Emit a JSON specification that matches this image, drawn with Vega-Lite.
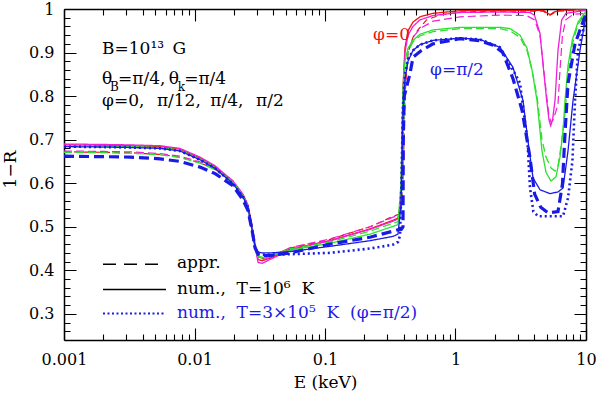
{
"$schema": "https://vega.github.io/schema/vega-lite/v6.json",
"width": 522, "height": 331,
"autosize": "none",
"padding": {"left": 64, "top": 9, "right": 14, "bottom": 53},
"background": "white",
"config": {"view": {"stroke": null},
 "axis": {"labelFont": "DejaVu Serif", "titleFont": "DejaVu Serif", "labelFontSize": 16, "titleFontSize": 17, "titleFontWeight": "normal", "labelColor": "black", "titleColor": "black", "domainColor": "black", "domainWidth": 1.5, "labelFlush": false, "labelOverlap": false}},
"datasets": {
"dummy": [{"E": 1, "v": 0.5}],
"curves": [
{"s":"a","E":0.001,"v":0.672},{"s":"a","E":0.002,"v":0.671},{"s":"a","E":0.0032,"v":0.670},{"s":"a","E":0.00545,"v":0.666},{"s":"a","E":0.00773,"v":0.660},{"s":"a","E":0.011,"v":0.647},{"s":"a","E":0.0144,"v":0.632},{"s":"a","E":0.0197,"v":0.604},{"s":"a","E":0.0235,"v":0.572},{"s":"a","E":0.0257,"v":0.547},{"s":"a","E":0.0276,"v":0.502},{"s":"a","E":0.0291,"v":0.457},{"s":"a","E":0.0307,"v":0.43},{"s":"a","E":0.033,"v":0.427},{"s":"a","E":0.038,"v":0.432},{"s":"a","E":0.054,"v":0.451},{"s":"a","E":0.109,"v":0.471},{"s":"a","E":0.221,"v":0.5},{"s":"a","E":0.333,"v":0.524},{"s":"a","E":0.3625,"v":0.528},
{"s":"a","E":0.3823,"v":0.535},{"s":"a","E":0.396,"v":0.6},{"s":"a","E":0.41,"v":0.8},{"s":"a","E":0.4325,"v":0.9},{"s":"a","E":0.4725,"v":0.935},{"s":"a","E":0.516,"v":0.952},{"s":"a","E":0.6,"v":0.975},{"s":"a","E":0.76,"v":0.986},{"s":"a","E":1.083,"v":0.993},{"s":"a","E":2.193,"v":0.995},{"s":"a","E":4.684,"v":0.995},{"s":"a","E":5.0,"v":0.99},{"s":"a","E":5.3,"v":0.986},{"s":"a","E":5.6,"v":0.99},{"s":"a","E":6.0,"v":0.995},{"s":"a","E":10,"v":0.998},
{"s":"b","E":0.001,"v":0.688},{"s":"b","E":0.002,"v":0.687},{"s":"b","E":0.0032,"v":0.686},{"s":"b","E":0.00545,"v":0.684},{"s":"b","E":0.00773,"v":0.678},{"s":"b","E":0.011,"v":0.658},{"s":"b","E":0.0144,"v":0.638},{"s":"b","E":0.0197,"v":0.603},{"s":"b","E":0.0235,"v":0.573},{"s":"b","E":0.0257,"v":0.548},{"s":"b","E":0.0276,"v":0.498},{"s":"b","E":0.0291,"v":0.453},{"s":"b","E":0.0307,"v":0.425},{"s":"b","E":0.033,"v":0.422},{"s":"b","E":0.038,"v":0.428},{"s":"b","E":0.054,"v":0.449},{"s":"b","E":0.109,"v":0.468},{"s":"b","E":0.221,"v":0.495},{"s":"b","E":0.333,"v":0.515},{"s":"b","E":0.3625,"v":0.52},
{"s":"b","E":0.3823,"v":0.56},{"s":"b","E":0.396,"v":0.82},{"s":"b","E":0.41,"v":0.91},{"s":"b","E":0.4325,"v":0.95},{"s":"b","E":0.4725,"v":0.97},{"s":"b","E":0.5346,"v":0.982},{"s":"b","E":0.6725,"v":0.99},{"s":"b","E":1.083,"v":0.996},{"s":"b","E":4.7,"v":0.997},{"s":"b","E":5.1,"v":0.99},{"s":"b","E":5.35,"v":0.987},{"s":"b","E":5.6,"v":0.992},{"s":"b","E":6.3,"v":0.997},{"s":"b","E":10,"v":0.999},
{"s":"c","E":0.001,"v":0.674},{"s":"c","E":0.002,"v":0.673},{"s":"c","E":0.0032,"v":0.672},{"s":"c","E":0.00545,"v":0.668},{"s":"c","E":0.00773,"v":0.662},{"s":"c","E":0.011,"v":0.649},{"s":"c","E":0.0144,"v":0.634},{"s":"c","E":0.0197,"v":0.606},{"s":"c","E":0.0235,"v":0.574},{"s":"c","E":0.0257,"v":0.549},{"s":"c","E":0.0276,"v":0.504},{"s":"c","E":0.0291,"v":0.459},{"s":"c","E":0.0307,"v":0.425},{"s":"c","E":0.033,"v":0.423},{"s":"c","E":0.038,"v":0.43},{"s":"c","E":0.054,"v":0.452},{"s":"c","E":0.109,"v":0.472},{"s":"c","E":0.221,"v":0.5},{"s":"c","E":0.333,"v":0.522},{"s":"c","E":0.3625,"v":0.526},
{"s":"c","E":0.3823,"v":0.54},{"s":"c","E":0.396,"v":0.65},{"s":"c","E":0.41,"v":0.82},{"s":"c","E":0.4325,"v":0.9},{"s":"c","E":0.4725,"v":0.935},{"s":"c","E":0.5346,"v":0.955},{"s":"c","E":0.6725,"v":0.972},{"s":"c","E":1.083,"v":0.982},{"s":"c","E":2.193,"v":0.986},{"s":"c","E":3.5,"v":0.985},{"s":"c","E":4.04,"v":0.975},{"s":"c","E":4.442,"v":0.94},{"s":"c","E":4.708,"v":0.87},{"s":"c","E":4.997,"v":0.8},{"s":"c","E":5.206,"v":0.755},{"s":"c","E":5.4,"v":0.74},{"s":"c","E":5.6,"v":0.745},{"s":"c","E":6.1,"v":0.78},{"s":"c","E":6.32,"v":0.86},{"s":"c","E":6.6,"v":0.94},{"s":"c","E":7.0,"v":0.975},{"s":"c","E":8.0,"v":0.988},{"s":"c","E":10,"v":0.99},
{"s":"d","E":0.001,"v":0.69},{"s":"d","E":0.002,"v":0.689},{"s":"d","E":0.0032,"v":0.688},{"s":"d","E":0.00545,"v":0.686},{"s":"d","E":0.00773,"v":0.68},{"s":"d","E":0.011,"v":0.66},{"s":"d","E":0.0144,"v":0.64},{"s":"d","E":0.0197,"v":0.605},{"s":"d","E":0.0235,"v":0.575},{"s":"d","E":0.0257,"v":0.55},{"s":"d","E":0.0276,"v":0.5},{"s":"d","E":0.0291,"v":0.455},{"s":"d","E":0.0307,"v":0.418},{"s":"d","E":0.033,"v":0.416},{"s":"d","E":0.038,"v":0.425},{"s":"d","E":0.054,"v":0.447},{"s":"d","E":0.109,"v":0.468},{"s":"d","E":0.221,"v":0.494},{"s":"d","E":0.333,"v":0.513},{"s":"d","E":0.3625,"v":0.518},
{"s":"d","E":0.3823,"v":0.55},{"s":"d","E":0.396,"v":0.8},{"s":"d","E":0.41,"v":0.9},{"s":"d","E":0.4325,"v":0.94},{"s":"d","E":0.4725,"v":0.96},{"s":"d","E":0.5346,"v":0.975},{"s":"d","E":0.6725,"v":0.985},{"s":"d","E":1.083,"v":0.992},{"s":"d","E":2.193,"v":0.993},{"s":"d","E":3.724,"v":0.992},{"s":"d","E":4.04,"v":0.985},{"s":"d","E":4.442,"v":0.944},{"s":"d","E":4.708,"v":0.866},{"s":"d","E":4.997,"v":0.79},{"s":"d","E":5.206,"v":0.745},{"s":"d","E":5.364,"v":0.732},{"s":"d","E":5.54,"v":0.745},{"s":"d","E":5.788,"v":0.79},{"s":"d","E":6.1,"v":0.905},{"s":"d","E":6.513,"v":0.975},{"s":"d","E":7.025,"v":0.99},{"s":"d","E":10,"v":0.997},
{"s":"e","E":0.001,"v":0.671},{"s":"e","E":0.002,"v":0.670},{"s":"e","E":0.0032,"v":0.669},{"s":"e","E":0.00545,"v":0.665},{"s":"e","E":0.00773,"v":0.659},{"s":"e","E":0.011,"v":0.646},{"s":"e","E":0.0144,"v":0.631},{"s":"e","E":0.0197,"v":0.603},{"s":"e","E":0.0235,"v":0.571},{"s":"e","E":0.0257,"v":0.546},{"s":"e","E":0.0276,"v":0.501},{"s":"e","E":0.0291,"v":0.456},{"s":"e","E":0.0307,"v":0.432},{"s":"e","E":0.033,"v":0.43},{"s":"e","E":0.038,"v":0.434},{"s":"e","E":0.054,"v":0.449},{"s":"e","E":0.109,"v":0.465},{"s":"e","E":0.221,"v":0.49},{"s":"e","E":0.333,"v":0.508},{"s":"e","E":0.3625,"v":0.512},
{"s":"e","E":0.3823,"v":0.52},{"s":"e","E":0.396,"v":0.62},{"s":"e","E":0.41,"v":0.84},{"s":"e","E":0.4325,"v":0.9},{"s":"e","E":0.4725,"v":0.925},{"s":"e","E":0.5346,"v":0.938},{"s":"e","E":0.6725,"v":0.948},{"s":"e","E":1.083,"v":0.955},{"s":"e","E":2.193,"v":0.955},{"s":"e","E":2.616,"v":0.95},{"s":"e","E":3.121,"v":0.935},{"s":"e","E":3.531,"v":0.905},{"s":"e","E":3.857,"v":0.86},{"s":"e","E":4.212,"v":0.8},{"s":"e","E":4.6,"v":0.7},{"s":"e","E":4.937,"v":0.66},{"s":"e","E":5.393,"v":0.635},{"s":"e","E":5.788,"v":0.628},{"s":"e","E":6.1,"v":0.64},{"s":"e","E":6.4,"v":0.68},{"s":"e","E":6.905,"v":0.76},{"s":"e","E":7.28,"v":0.85},{"s":"e","E":7.87,"v":0.92},{"s":"e","E":8.685,"v":0.965},{"s":"e","E":10,"v":0.99},
{"s":"f","E":0.001,"v":0.686},{"s":"f","E":0.002,"v":0.685},{"s":"f","E":0.0032,"v":0.684},{"s":"f","E":0.00545,"v":0.682},{"s":"f","E":0.00773,"v":0.676},{"s":"f","E":0.011,"v":0.656},{"s":"f","E":0.0144,"v":0.636},{"s":"f","E":0.0197,"v":0.601},{"s":"f","E":0.0235,"v":0.571},{"s":"f","E":0.0257,"v":0.546},{"s":"f","E":0.0276,"v":0.496},{"s":"f","E":0.0291,"v":0.451},{"s":"f","E":0.0307,"v":0.43},{"s":"f","E":0.033,"v":0.428},{"s":"f","E":0.038,"v":0.433},{"s":"f","E":0.054,"v":0.446},{"s":"f","E":0.109,"v":0.462},{"s":"f","E":0.221,"v":0.483},{"s":"f","E":0.333,"v":0.501},{"s":"f","E":0.3625,"v":0.505},
{"s":"f","E":0.3823,"v":0.6},{"s":"f","E":0.396,"v":0.82},{"s":"f","E":0.41,"v":0.88},{"s":"f","E":0.4325,"v":0.91},{"s":"f","E":0.4725,"v":0.928},{"s":"f","E":0.5346,"v":0.942},{"s":"f","E":0.6725,"v":0.952},{"s":"f","E":1.083,"v":0.958},{"s":"f","E":2.193,"v":0.958},{"s":"f","E":2.616,"v":0.955},{"s":"f","E":3.121,"v":0.94},{"s":"f","E":3.531,"v":0.91},{"s":"f","E":3.857,"v":0.86},{"s":"f","E":4.212,"v":0.79},{"s":"f","E":4.6,"v":0.674},{"s":"f","E":4.937,"v":0.625},{"s":"f","E":5.393,"v":0.605},{"s":"f","E":5.89,"v":0.615},{"s":"f","E":6.32,"v":0.66},{"s":"f","E":6.665,"v":0.72},{"s":"f","E":6.905,"v":0.79},{"s":"f","E":7.28,"v":0.87},{"s":"f","E":7.87,"v":0.93},{"s":"f","E":8.685,"v":0.97},{"s":"f","E":10,"v":0.995},
{"s":"g","E":0.001,"v":0.662},{"s":"g","E":0.002,"v":0.661},{"s":"g","E":0.0032,"v":0.66},{"s":"g","E":0.00545,"v":0.656},{"s":"g","E":0.00773,"v":0.65},{"s":"g","E":0.011,"v":0.637},{"s":"g","E":0.0144,"v":0.622},{"s":"g","E":0.0197,"v":0.594},{"s":"g","E":0.0235,"v":0.562},{"s":"g","E":0.0257,"v":0.537},{"s":"g","E":0.0276,"v":0.492},{"s":"g","E":0.0291,"v":0.452},{"s":"g","E":0.0307,"v":0.437},{"s":"g","E":0.033,"v":0.434},{"s":"g","E":0.038,"v":0.434},{"s":"g","E":0.054,"v":0.44},{"s":"g","E":0.109,"v":0.46},{"s":"g","E":0.221,"v":0.476},{"s":"g","E":0.333,"v":0.49},{"s":"g","E":0.3625,"v":0.493},
{"s":"g","E":0.385,"v":0.494},{"s":"g","E":0.396,"v":0.5},{"s":"g","E":0.398,"v":0.7},{"s":"g","E":0.405,"v":0.8},{"s":"g","E":0.448,"v":0.852},{"s":"g","E":0.4725,"v":0.889},{"s":"g","E":0.55,"v":0.905},{"s":"g","E":0.6725,"v":0.92},{"s":"g","E":1.083,"v":0.932},{"s":"g","E":1.541,"v":0.927},{"s":"g","E":1.939,"v":0.917},{"s":"g","E":2.3,"v":0.9},{"s":"g","E":2.758,"v":0.84},{"s":"g","E":3.24,"v":0.767},{"s":"g","E":3.724,"v":0.658},{"s":"g","E":4.04,"v":0.575},{"s":"g","E":4.5,"v":0.545},{"s":"g","E":5.115,"v":0.532},{"s":"g","E":6.1,"v":0.535},{"s":"g","E":6.6,"v":0.598},{"s":"g","E":6.905,"v":0.714},{"s":"g","E":7.28,"v":0.829},{"s":"g","E":8.24,"v":0.92},{"s":"g","E":10,"v":0.99},
{"s":"h","E":0.001,"v":0.684},{"s":"h","E":0.002,"v":0.683},{"s":"h","E":0.0032,"v":0.682},{"s":"h","E":0.00545,"v":0.68},{"s":"h","E":0.00773,"v":0.674},{"s":"h","E":0.011,"v":0.654},{"s":"h","E":0.0144,"v":0.634},{"s":"h","E":0.0197,"v":0.599},{"s":"h","E":0.0235,"v":0.569},{"s":"h","E":0.0257,"v":0.544},{"s":"h","E":0.0276,"v":0.494},{"s":"h","E":0.0291,"v":0.455},{"s":"h","E":0.0307,"v":0.442},{"s":"h","E":0.033,"v":0.44},{"s":"h","E":0.038,"v":0.44},{"s":"h","E":0.054,"v":0.443},{"s":"h","E":0.109,"v":0.455},{"s":"h","E":0.221,"v":0.468},{"s":"h","E":0.333,"v":0.478},{"s":"h","E":0.3625,"v":0.483},
{"s":"h","E":0.3823,"v":0.55},{"s":"h","E":0.396,"v":0.76},{"s":"h","E":0.41,"v":0.84},{"s":"h","E":0.4325,"v":0.88},{"s":"h","E":0.4725,"v":0.905},{"s":"h","E":0.5346,"v":0.918},{"s":"h","E":0.6725,"v":0.928},{"s":"h","E":1.083,"v":0.933},{"s":"h","E":1.541,"v":0.93},{"s":"h","E":2.193,"v":0.912},{"s":"h","E":2.758,"v":0.866},{"s":"h","E":3.29,"v":0.79},{"s":"h","E":3.594,"v":0.697},{"s":"h","E":3.926,"v":0.612},{"s":"h","E":4.442,"v":0.585},{"s":"h","E":5.298,"v":0.576},{"s":"h","E":6.1,"v":0.58},{"s":"h","E":6.665,"v":0.589},{"s":"h","E":7.28,"v":0.674},{"s":"h","E":7.953,"v":0.79},{"s":"h","E":8.995,"v":0.905},{"s":"h","E":10,"v":0.985},
{"s":"i","E":0.001,"v":0.684},{"s":"i","E":0.002,"v":0.683},{"s":"i","E":0.0032,"v":0.682},{"s":"i","E":0.00545,"v":0.68},{"s":"i","E":0.00773,"v":0.674},{"s":"i","E":0.011,"v":0.654},{"s":"i","E":0.0144,"v":0.634},{"s":"i","E":0.0197,"v":0.599},{"s":"i","E":0.0235,"v":0.569},{"s":"i","E":0.0257,"v":0.544},{"s":"i","E":0.0276,"v":0.494},{"s":"i","E":0.0291,"v":0.452},{"s":"i","E":0.0307,"v":0.437},{"s":"i","E":0.033,"v":0.436},{"s":"i","E":0.038,"v":0.436},{"s":"i","E":0.054,"v":0.437},{"s":"i","E":0.109,"v":0.44},{"s":"i","E":0.221,"v":0.45},{"s":"i","E":0.333,"v":0.459},{"s":"i","E":0.3625,"v":0.465},
{"s":"i","E":0.376,"v":0.48},{"s":"i","E":0.385,"v":0.6},{"s":"i","E":0.396,"v":0.78},{"s":"i","E":0.41,"v":0.85},{"s":"i","E":0.4325,"v":0.885},{"s":"i","E":0.4725,"v":0.905},{"s":"i","E":0.5346,"v":0.918},{"s":"i","E":0.6725,"v":0.928},{"s":"i","E":1.083,"v":0.933},{"s":"i","E":1.541,"v":0.93},{"s":"i","E":2.193,"v":0.912},{"s":"i","E":2.758,"v":0.86},{"s":"i","E":3.121,"v":0.83},{"s":"i","E":3.56,"v":0.697},{"s":"i","E":3.724,"v":0.589},{"s":"i","E":3.95,"v":0.535},{"s":"i","E":4.3,"v":0.524},{"s":"i","E":6.665,"v":0.524},{"s":"i","E":7.28,"v":0.566},{"s":"i","E":7.87,"v":0.651},{"s":"i","E":8.24,"v":0.79},{"s":"i","E":8.685,"v":0.905},{"s":"i","E":10,"v":0.975},
{"s":"j","E":0.00199,"v":0.414},{"s":"j","E":0.00544,"v":0.414},
{"s":"k","E":0.00199,"v":0.356},{"s":"k","E":0.00605,"v":0.356},
{"s":"l","E":0.00199,"v":0.301},{"s":"l","E":0.00605,"v":0.301}
],
"texts": [
{"x":0.001956,"y":0.8976,"t":"B=10¹³\u2002G","k":"n"},
{"x":0.001956,"y":0.8284,"t":"θ","k":"n"},
{"x":0.002593,"y":0.8284,"t":"=π/4,","k":"n"},
{"x":0.00636,"y":0.8284,"t":"θ","k":"n"},
{"x":0.00833,"y":0.8284,"t":"=π/4","k":"n"},
{"x":0.001956,"y":0.778,"t":"φ=0,","k":"n"},
{"x":0.00515,"y":0.778,"t":"π/12,","k":"n"},
{"x":0.0132,"y":0.778,"t":"π/4,","k":"n"},
{"x":0.0296,"y":0.778,"t":"π/2","k":"n"},
{"x":0.2333,"y":0.928,"t":"φ=0","k":"r"},
{"x":0.6375,"y":0.848,"t":"φ=π/2","k":"b"},
{"x":0.00734,"y":0.405,"t":"appr.","k":"n"},
{"x":0.00734,"y":0.345,"t":"num.,\u00a0\u00a0T=10⁶\u00a0\u00a0K","k":"n"},
{"x":0.00734,"y":0.291,"t":"num.,\u00a0\u00a0T=3×10⁵\u00a0\u00a0K\u00a0\u00a0(φ=π/2)","k":"b"}
],
"subs": [
{"x":0.002252,"y":0.8113,"t":"B"},
{"x":0.00743,"y":0.8113,"t":"k"}
]
},
"resolve": {"scale": {"color": "independent"}, "axis": {"x": "independent", "y": "independent"}},
"layer": [
{
 "data": {"name": "curves"},
 "mark": {"type": "line", "clip": true},
 "encoding": {
  "x": {"field": "E", "type": "quantitative", "scale": {"type": "log", "domain": [0.001, 10], "nice": false},
        "axis": {"orient": "bottom", "values": [0.001, 0.01, 0.1, 1, 10], "format": "~g", "ticks": false, "labelPadding": 11, "grid": true, "gridColor": "black", "gridOpacity": 1, "gridWidth": 1.1, "gridDash": [12, 307, 12, 0], "title": "E (keV)", "titleX": 261, "titleY": 47, "titleBaseline": "alphabetic", "titleAlign": "center"}},
  "y": {"field": "v", "type": "quantitative", "scale": {"domain": [0.24, 1], "nice": false, "zero": false},
        "axis": {"orient": "left", "values": [0.3, 0.4, 0.5, 0.6, 0.7, 0.8, 0.9, 1], "labelExpr": "datum.value > 0.99 ? '1' : format(datum.value, '.1f')", "ticks": false, "labelPadding": 10, "grid": true, "gridColor": "black", "gridOpacity": 1, "gridWidth": 1.1, "gridDash": [12, 498, 12, 0], "title": "1−R", "titleX": -54, "titleY": 160, "titleAngle": -90, "titleBaseline": "middle", "titleAlign": "center"}},
  "detail": {"field": "s"},
  "color": {"field": "s", "type": "nominal", "legend": null,
    "scale": {"type": "ordinal", "domain": ["a","b","c","d","e","f","g","h","i","j","k","l"],
              "range": ["#f21010","#f21010","#f020d8","#f020d8","#2ee02e","#2ee02e","#1a1ae6","#1a1ae6","#1a1ae6","#000000","#000000","#1a1ae6"]}},
  "strokeDash": {"field": "s", "type": "nominal", "legend": null,
    "scale": {"type": "ordinal", "domain": ["a","b","c","d","e","f","g","h","i","j","k","l"],
              "range": [[6,4],[1,0],[8,4],[1,0],[8,4],[1,0],[10,5],[1,0],[2,3],[13,8],[1,0],[2,2.5]]}},
  "strokeWidth": {"field": "s", "type": "nominal", "legend": null,
    "scale": {"type": "ordinal", "domain": ["a","b","c","d","e","f","g","h","i","j","k","l"],
              "range": [1.2,1.3,1.2,1.3,1.3,1.3,3.2,1.3,2.6,1.5,1.5,2]}}
 }
},
{
 "data": {"name": "dummy"},
 "mark": {"type": "point", "opacity": 0},
 "encoding": {
  "x": {"field": "E", "type": "quantitative", "axis": {"orient": "bottom", "values": [0.002,0.003,0.004,0.005,0.006,0.007,0.008,0.009,0.02,0.03,0.04,0.05,0.06,0.07,0.08,0.09,0.2,0.3,0.4,0.5,0.6,0.7,0.8,0.9,2,3,4,5,6,7,8,9], "ticks": false, "labels": false, "domain": false, "title": null, "grid": true, "gridColor": "black", "gridOpacity": 1, "gridWidth": 1.1, "gridDash": [6, 319, 6, 0]}},
  "y": {"field": "v", "type": "quantitative", "axis": {"orient": "left", "values": [0.26,0.28,0.32,0.34,0.36,0.38,0.42,0.44,0.46,0.48,0.52,0.54,0.56,0.58,0.62,0.64,0.66,0.68,0.72,0.74,0.76,0.78,0.82,0.84,0.86,0.88,0.92,0.94,0.96,0.98], "ticks": false, "labels": false, "domain": false, "title": null, "grid": true, "gridColor": "black", "gridOpacity": 1, "gridWidth": 1.1, "gridDash": [6, 510, 6, 0]}}
 }
},
{
 "data": {"name": "dummy"},
 "mark": {"type": "point", "opacity": 0},
 "encoding": {
  "x": {"field": "E", "type": "quantitative", "axis": {"orient": "top", "values": [0.001, 10], "ticks": false, "labels": false, "grid": false, "title": null}},
  "y": {"field": "v", "type": "quantitative", "axis": {"orient": "right", "values": [0.3, 1], "ticks": false, "labels": false, "grid": false, "title": null}}
 }
},
{
 "data": {"name": "texts"},
 "mark": {"type": "text", "align": "left", "baseline": "alphabetic", "font": "DejaVu Serif", "fontSize": 17},
 "encoding": {
  "x": {"field": "x", "type": "quantitative", "axis": null},
  "y": {"field": "y", "type": "quantitative", "axis": null},
  "text": {"field": "t"},
  "color": {"field": "k", "type": "nominal", "legend": null, "scale": {"domain": ["n","r","b"], "range": ["#000000","#f21010","#1a1ae6"]}}
 }
},
{
 "data": {"name": "subs"},
 "mark": {"type": "text", "align": "left", "baseline": "alphabetic", "font": "DejaVu Serif", "fontSize": 12, "color": "black"},
 "encoding": {
  "x": {"field": "x", "type": "quantitative", "axis": null},
  "y": {"field": "y", "type": "quantitative", "axis": null},
  "text": {"field": "t"}
 }
}
]
}
